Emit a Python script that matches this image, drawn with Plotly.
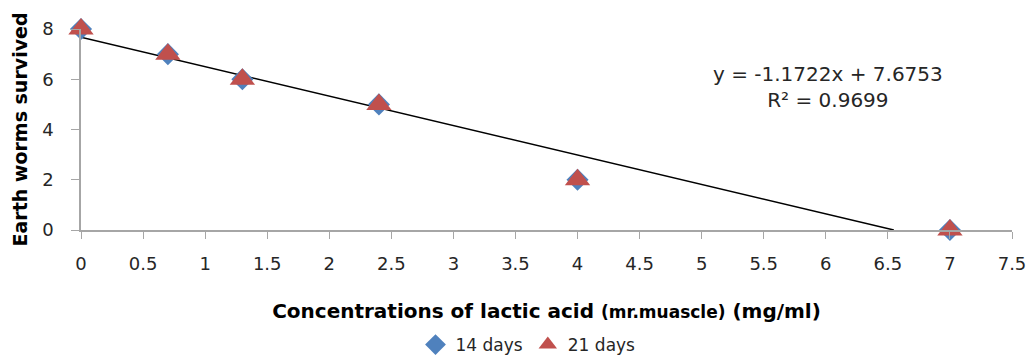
import numpy as np
import plotly.graph_objects as go

conc = [0, 0.7, 1.3, 2.4, 4, 7]
days14 = [8, 7, 6, 5, 2, 0]
days21 = [8, 7, 6, 5, 2, 0]
x_ticks = [0, 0.5, 1, 1.5, 2, 2.5, 3, 3.5, 4, 4.5, 5, 5.5, 6, 6.5, 7, 7.5]
y_ticks = [0, 2, 4, 6, 8]

slope, intercept = np.polyfit(conc, days14, 1)
r2 = np.corrcoef(conc, days14)[0, 1] ** 2
x_end = -intercept / slope
trend_x = [0, x_end]
trend_y = [intercept, slope * x_end + intercept]

FONT = "DejaVu Sans"
OFF = 8  # default page body margin
W, H = 1036 - OFF, 358 - OFF
L, R, T, B = 81 - OFF, 1012 - OFF, 29 - OFF, 230 - OFF
fig = go.Figure()
fig.add_trace(go.Scatter(x=trend_x, y=trend_y, mode="lines",
                         line=dict(color="black", width=1.5),
                         showlegend=False, hoverinfo="skip", cliponaxis=False))
fig.add_trace(go.Scatter(x=conc, y=days14, mode="markers", name="14 days",
                         marker=dict(symbol="diamond", size=17, color="#4F81BD"),
                         cliponaxis=False))
fig.add_trace(go.Scatter(x=conc, y=days21, mode="markers", name="21 days",
                         marker=dict(symbol="triangle-up", size=22, color="#C0504D"),
                         cliponaxis=False))

fig.add_annotation(x=(828 - OFF - L) / (R - L), y=1 - (87 - OFF - T) / (B - T),
                   xref="paper", yref="paper", showarrow=False,
                   xanchor="center", yanchor="middle",
                   text="y = -1.1722x + 7.6753<br>R² = 0.9699",
                   font=dict(family=FONT, size=20, color="#262626"), align="center")

fig.update_layout(
    width=W, height=H,
    margin=dict(l=L, r=W - R, t=T, b=H - B, autoexpand=False),
    paper_bgcolor="white", plot_bgcolor="white",
    font=dict(family=FONT, size=18, color="#262626"),
    showlegend=True,
    legend=dict(orientation="h", x=(528 - OFF - L) / (R - L), xanchor="center",
                y=(B - (345 - OFF)) / (B - T), yanchor="middle",
                font=dict(family=FONT, size=17, color="#262626"),
                itemwidth=30, tracegroupgap=0),
    xaxis=dict(range=[0, 7.5], tickvals=x_ticks, ticktext=[f"{v:g}" for v in x_ticks],
               showgrid=False, zeroline=False, showline=True, linecolor="#A6A6A6",
               linewidth=1.5, ticks="outside", ticklen=7, tickcolor="#A6A6A6",
               ticklabelstandoff=10, automargin=False,
               tickfont=dict(family=FONT, size=18, color="#262626"),
               title=dict(text="<b>Concentrations of lactic acid <span style='font-size:17px'>(mr.muascle)</span> (mg/ml)</b>",
                          font=dict(family=FONT, size=20, color="black"), standoff=31)),
    yaxis=dict(range=[0, 8], tickvals=y_ticks,
               showgrid=False, zeroline=False, showline=True, linecolor="#A6A6A6",
               linewidth=1.5, ticks="outside", ticklen=8, tickcolor="#A6A6A6",
               ticklabelstandoff=14, automargin=False,
               tickfont=dict(family=FONT, size=18, color="#262626"),
               title=dict(text="<b>Earth worms survived</b>",
                          font=dict(family=FONT, size=19, color="black"), standoff=10)),
)
fig.write_html("out.html")
